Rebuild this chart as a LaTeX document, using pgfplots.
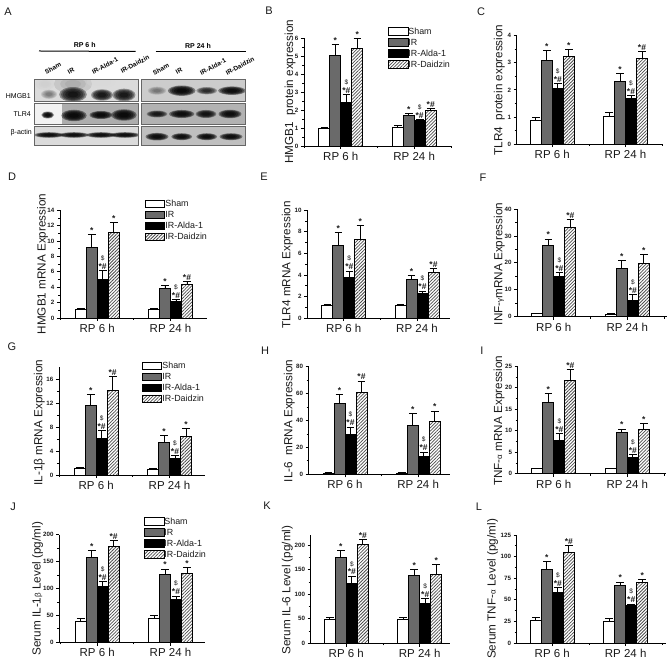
\documentclass[border=0pt]{standalone}
\usepackage{fontspec}
\setmainfont{Liberation Sans}
\usepackage{pgfplots}
\usepackage{pgfplotstable}
\pgfplotsset{compat=1.18}
\usetikzlibrary{patterns.meta}
\definecolor{irgray}{HTML}{6A6A6A}
\definecolor{txt}{HTML}{1A1A1A}

\pgfplotstableread{
x sham she ir ire al ale da dae
0 0.95 0.06 5.03 0.63 2.45 0.42 5.42 0.58
1 1.03 0.10 1.70 0.12 1.42 0.06 2.00 0.10
}\tabB
\pgfplotstableread{
x sham she ir ire al ale da dae
0 0.87 0.10 3.08 0.38 2.04 0.20 3.25 0.25
1 1.03 0.13 2.32 0.28 1.67 0.12 3.15 0.25
}\tabC
\pgfplotstableread{
x sham she ir ire al ale da dae
0 1.15 0.10 9.20 1.60 5.00 1.20 11.15 1.25
1 1.15 0.12 3.85 0.40 2.10 0.25 4.35 0.40
}\tabD
\pgfplotstableread{
x sham she ir ire al ale da dae
0 1.15 0.07 6.70 1.20 3.80 0.55 7.30 1.25
1 1.15 0.07 3.55 0.42 2.28 0.22 4.20 0.38
}\tabE
\pgfplotstableread{
x sham she ir ire al ale da dae
0 1.10 0.10 26.3 2.5 14.8 1.7 33.0 3.1
1 1.00 0.10 18.0 2.8 6.1 2.0 19.9 3.3
}\tabF
\pgfplotstableread{
x sham she ir ire al ale da dae
0 1.10 0.10 11.6 1.8 6.10 1.30 14.2 2.3
1 1.00 0.08 5.50 1.05 2.75 0.50 6.40 1.30
}\tabG
\pgfplotstableread{
x sham she ir ire al ale da dae
0 1.0 0.1 53.0 6.5 29.7 5.5 60.5 8.8
1 1.0 0.1 36.0 9.0 13.0 3.5 39.0 8.0
}\tabH
\pgfplotstableread{
x sham she ir ire al ale da dae
0 1.2 0.1 16.5 2.1 7.8 1.5 21.7 2.6
1 1.2 0.1 9.7 0.7 3.8 0.7 10.2 1.5
}\tabI
\pgfplotstableread{
x sham she ir ire al ale da dae
0 39 6 157 14 104 9 178 11
1 44 5 126 10 80 6 128 11
}\tabJ
\pgfplotstableread{
x sham she ir ire al ale da dae
0 48 4 176 13 123 14 202 10
1 48 5 138 12 82 10 141 20
}\tabK
\pgfplotstableread{
x sham she ir ire al ale da dae
0 26 4 85 9 58 6 105 8
1 25 3.5 67 3.5 43 2 70.5 3
}\tabL

% geometry of a panel, in pixels of the reference: L B T R c1 c2 labelx labely
\newcommand\setp[8]{%
 \pgfmathsetmacro\pW{#4-#1}\pgfmathsetmacro\pH{#2-#3}%
 \pgfmathsetmacro\pXmin{(#1-#5)/(#6-#5)}\pgfmathsetmacro\pXmax{(#4-#5)/(#6-#5)}%
 \pgfmathsetmacro\pY{663-#2}\edef\pL{#1}%
 \pgfmathsetmacro\pLx{(#7-#1)/(#4-#1)}\pgfmathsetmacro\pLy{(#2-#8)/(#2-#3)}%
 \edef\pB{#2}\edef\pT{#3}\edef\pR{#4}%
}
% legend corner, in pixels
\newcommand\setleg[2]{%
 \pgfmathsetmacro\gX{(#1-\pL)/(\pR-\pL)}\pgfmathsetmacro\gY{(\pB-#2)/(\pB-\pT)}%
}
\pgfplotsset{
 panel/.style={
  scale only axis, width=\pW bp, height=\pH bp,
  at={(\pL bp,\pY bp)}, anchor=south west,
  clip=false, ybar=0pt, bar width=11bp,
  xmin=\pXmin, xmax=\pXmax, ymin=0,
  axis x line=bottom, axis y line=left,
  axis line style={-,line width=0.9bp,black},
  every tick/.style={black,line width=0.8bp},
  tick align=outside,
  major tick length=3.2bp, minor tick length=2bp,
  xtick={0,1}, xticklabels={RP 6 h,RP 24 h},
  minor xtick={-0.5,0.5,1.5},
  minor y tick num=1,
  x tick label style={font=\fontsize{11.5bp}{12bp}\selectfont,text=txt,yshift=0.5bp},
  y tick label style={font=\bfseries\fontsize{6.2bp}{7bp}\selectfont,text=txt,xshift=1bp},
  /pgf/number format/assume math mode=true,
  every axis y label/.style={at={(axis description cs:\pLx,\pLy)},rotate=90,anchor=center,
    font=\fontsize{11.7bp}{12bp}\selectfont,text=txt},
 },
 withleg/.style={
  legend style={at={(\gX,\gY)},anchor=north west,draw=none,fill=none,inner sep=0pt,outer sep=0pt,
   font=\fontsize{8.9bp}{9bp}\selectfont,text=txt,row sep=2bp,
   nodes={inner sep=0pt,text height=7bp,text depth=2bp,anchor=west},
   /tikz/every even column/.append style={column sep=3bp}},
  legend cell align=left,
 },
 lg/.style={legend image code/.code={\path[draw=black,line width=0.9bp,#1] (0bp,-3.8bp) rectangle (19.5bp,3.8bp);}},
 eb/.style={error bars/.cd,y dir=plus,y explicit,
  error bar style={black,line width=0.9bp},
  error mark options={rotate=90,mark size=3.8bp,line width=0.9bp,black}},
}
\newcommand\bars[1]{%
 \addplot[lg={fill=white},draw=black,line width=0.9bp,fill=white,eb] table[x=x,y=sham,y error=she]{#1};
 \addplot[lg={fill=irgray},draw=black,line width=0.9bp,fill=irgray,eb] table[x=x,y=ir,y error=ire]{#1};
 \addplot[lg={fill=black},draw=black,line width=0.9bp,fill=black,eb] table[x=x,y=al,y error=ale]{#1};
 \addplot[lg={pattern={Lines[angle=45,distance=2.3bp,line width=0.75bp]},pattern color=black!70},draw=black,line width=0.9bp,pattern={Lines[angle=45,distance=2.3bp,line width=0.75bp]},pattern color=black!70,eb] table[x=x,y=da,y error=dae]{#1};
}
\tikzset{sg/.style={font=\bfseries\fontsize{8.5bp}{9bp}\selectfont,text=txt,inner sep=0pt,anchor=south,yshift=1bp},
 dl/.style={font=\fontsize{6.5bp}{7bp}\selectfont,text=txt,inner sep=0pt,anchor=south,yshift=9.5bp}}
% significance marks of a group: tops of IR, Alda, Daidzin, mark of Daidzin
\newcommand\sigA[4]{%
 \node[sg] at (axis cs:-0.075,#1) {*};
 \node[sg] at (axis cs:0.075,#2) {*\#};
 \node[dl] at (axis cs:0.075,#2) {\$};
 \node[sg] at (axis cs:0.225,#3) {#4};
}
\newcommand\sigB[4]{%
 \node[sg] at (axis cs:0.925,#1) {*};
 \node[sg] at (axis cs:1.075,#2) {*\#};
 \node[dl] at (axis cs:1.075,#2) {\$};
 \node[sg] at (axis cs:1.225,#3) {#4};
}
\newcommand\smallg[1]{{\fontsize{8bp}{8bp}\selectfont #1}}

% blot band
\newcommand\band[5]{\foreach\k in {1.15,1,0.85,0.65,0.45}{\fill[black,opacity=#5] (#1,#2) ellipse [x radius=\k*#3 bp,y radius=\k*#4 bp];}}
\newcommand\blob[5]{\foreach\k in {1.2,0.8,0.5}{\fill[#5,opacity=0.3] (#1,#2) ellipse [x radius=\k*#3 bp,y radius=\k*#4 bp];}}

\begin{document}
\begin{tikzpicture}
\useasboundingbox (0,0) rectangle (669bp,663bp);

\begin{scope}[x=1bp,y=-1bp,yshift=663bp]
% panel letters
\foreach \t/\a/\b in {A/8/12,B/269/11,C/481/12,D/12/177,E/264/177,F/483/178,G/12/347,H/265/351,I/482/351,J/13/507,K/267/506,L/479/507}
 \node[font=\fontsize{11bp}{12bp}\selectfont,text=txt,inner sep=0pt] at (\a,\b) {\t};
% blot headers
\node[font=\bfseries\fontsize{7bp}{8bp}\selectfont,inner sep=0pt] at (84.7,45.3) {RP 6 h};
\node[font=\bfseries\fontsize{7bp}{8bp}\selectfont,inner sep=0pt] at (198,46) {RP 24 h};
\draw[line width=1bp] (39,51) -- (135.7,51.5);
\draw[line width=1bp] (155.7,52) -- (246,52);
\foreach \t/\a/\b in {Sham/53/68,IR/71/70.7,IR-Alda-1/105/65.7,IR-Daidzin/135/64.3,Sham/161/69,IR/179/71,IR-Alda-1/213/66.7,IR-Daidzin/240/66}
 \node[rotate=28,font=\bfseries\fontsize{6.4bp}{7bp}\selectfont,inner sep=0pt] at (\a,\b) {\t};
\node[anchor=east,font=\fontsize{7bp}{8bp}\selectfont,inner sep=0pt] at (31,95.7) {HMGB1};
\node[anchor=east,font=\fontsize{7bp}{8bp}\selectfont,inner sep=0pt] at (31,114) {TLR4};
\node[anchor=east,font=\fontsize{7bp}{8bp}\selectfont,inner sep=0pt] at (32,132.7) {β-actin};
% left HMGB1
\begin{scope}
\clip (34.7,79.3) rectangle (138.3,101.7);
\fill[black!14] (34.7,79.3) rectangle (138.3,101.7);
\blob{73}{84}{16}{8}{black!40}
\blob{101}{82}{12}{5}{black!15}
\blob{45}{84}{8}{5}{black!20}
\band{49}{94.3}{7}{4}{0.1}
\band{73}{94.5}{12}{6.5}{0.36}
\band{102}{95}{9.5}{5}{0.34}
\band{124}{95}{10}{5.5}{0.34}
\end{scope}
\draw[black!60,line width=0.7bp] (34.7,79.3) rectangle (138.3,101.7);
% left TLR4
\begin{scope}
\clip (34.7,103.3) rectangle (138.3,124.3);
\fill[black!32] (34.7,103.3) rectangle (138.3,124.3);
\fill[black!5] (34.7,103.3) rectangle (62,124.3);
\band{47.7}{115}{5.5}{3}{0.42}
\band{74}{115.5}{11}{5}{0.42}
\band{101}{115}{10}{3.5}{0.42}
\band{124}{115}{11}{5}{0.42}
\end{scope}
\draw[black!60,line width=0.7bp] (34.7,103.3) rectangle (138.3,124.3);
% left actin
\begin{scope}
\clip (34.7,126) rectangle (138.3,145.3);
\fill[black!14] (34.7,126) rectangle (138.3,145.3);
\band{49}{135}{13}{2.4}{0.4}
\band{74}{135}{13}{2.4}{0.4}
\band{101}{135}{13}{2.4}{0.4}
\band{125}{135}{13}{2.4}{0.4}
\end{scope}
\draw[black!60,line width=0.7bp] (34.7,126) rectangle (138.3,145.3);
% right HMGB1
\begin{scope}
\clip (141.7,79.3) rectangle (245.7,101.7);
\fill[black!20] (141.7,79.3) rectangle (245.7,101.7);
\band{157}{90.7}{8}{3.5}{0.1}
\band{181.7}{90.7}{12}{4.5}{0.42}
\band{206.7}{90.7}{9}{3.2}{0.26}
\band{232}{90.7}{12}{3.7}{0.4}
\end{scope}
\draw[black!60,line width=0.7bp] (141.7,79.3) rectangle (245.7,101.7);
% right TLR4
\begin{scope}
\clip (141.7,103.3) rectangle (245.7,124.3);
\fill[black!30] (141.7,103.3) rectangle (245.7,124.3);
\band{157}{114}{9}{3}{0.32}
\band{181.7}{114}{11}{3.5}{0.4}
\band{206}{114}{9}{3.5}{0.36}
\band{230}{114}{10}{3.7}{0.4}
\end{scope}
\draw[black!60,line width=0.7bp] (141.7,103.3) rectangle (245.7,124.3);
% right actin
\begin{scope}
\clip (141.7,126) rectangle (245.7,145.3);
\fill[black!25] (141.7,126) rectangle (245.7,145.3);
\band{157}{136.7}{10}{3.3}{0.4}
\band{181.7}{136.7}{9}{3}{0.4}
\band{206.7}{136.7}{9}{3}{0.4}
\band{231}{136.7}{10}{3}{0.4}
\end{scope}
\draw[black!60,line width=0.7bp] (141.7,126) rectangle (245.7,145.3);
\end{scope}

% B
\setp{304}{146}{38.3}{452}{340.8}{414.2}{290}{91.7}\setleg{388}{27}
\begin{axis}[panel,withleg,ymax=6,ytick={0,1,...,6},ylabel={HMGB1\ \ protein expression},
 legend entries={Sham,IR,IR-Alda-1,IR-Daidzin}]
\bars{\tabB}
\sigA{5.66}{2.87}{6.0}{*}\sigB{1.82}{1.48}{2.1}{*\#}
\end{axis}
% C
\setp{516.7}{144}{35.7}{662.7}{552.3}{625.5}{499.3}{90}
\begin{axis}[panel,ymax=4,ytick={0,1,...,4},ylabel={TLR4\ \ protein expression}]
\bars{\tabC}
\sigA{3.46}{2.24}{3.5}{*}\sigB{2.6}{1.79}{3.4}{*\#}
\end{axis}
% D
\setp{60}{318}{210.3}{206.7}{97.2}{170.5}{42.7}{264}\setleg{145}{199.5}
\begin{axis}[panel,withleg,ymax=14,ytick={0,2,...,14},ylabel={HMGB1 mRNA Expression},
 legend entries={Sham,IR,IR-Alda-1,IR-Daidzin}]
\bars{\tabD}
\sigA{10.8}{6.2}{12.4}{*}\sigB{4.25}{2.35}{4.75}{*\#}
\end{axis}
% E
\setp{307.3}{318}{210.3}{450}{343.8}{417}{287.3}{265}
\begin{axis}[panel,ymax=10,ytick={0,2,...,10},ylabel={TLR4 mRNA Expression}]
\bars{\tabE}
\sigA{7.9}{4.35}{8.55}{*}\sigB{3.97}{2.5}{4.58}{*\#}
\end{axis}
% F
\setp{517.3}{316.7}{209}{666.7}{553.8}{627.3}{499.3}{264}
\begin{axis}[panel,ymax=40,ytick={0,10,...,40},ylabel={INF-\smallg{γ}mRNA Expression}]
\bars{\tabF}
\sigA{28.8}{16.5}{36.1}{*\#}\sigB{20.8}{8.1}{23.2}{*}
\end{axis}
% G
\setp{59}{475}{367.3}{205}{96.2}{169.5}{39.3}{422.5}\setleg{142}{361.5}
\begin{axis}[panel,withleg,ymax=18,ytick={0,4,...,16},ylabel={IL-1β mRNA Expression},
 legend entries={Sham,IR,IR-Alda-1,IR-Daidzin}]
\bars{\tabG}
\sigA{13.4}{7.4}{16.5}{*\#}\sigB{6.55}{3.25}{7.7}{*}
\end{axis}
% H
\setp{308.7}{474.3}{366.7}{450}{345}{418.2}{289.3}{421}
\begin{axis}[panel,ymax=80,ytick={0,20,...,80},ylabel={IL-6\ \ mRNA Expression}]
\bars{\tabH}
\sigA{59.5}{35.2}{69.3}{*\#}\sigB{45}{16.5}{47}{*}
\end{axis}
% I
\setp{517.7}{473.7}{366.3}{666}{553.8}{627.3}{499}{420.7}
\begin{axis}[panel,ymax=25,ytick={0,5,...,25},ylabel={TNF-\smallg{α} mRNA Expression}]
\bars{\tabI}
\sigA{18.6}{9.3}{24.3}{*\#}\sigB{10.4}{4.5}{11.7}{*}
\end{axis}
% J
\setp{59.3}{642.3}{534.7}{205}{97.2}{170.5}{37.7}{588.7}\setleg{144}{517}
\begin{axis}[panel,withleg,ymax=200,ytick={0,50,...,200},ylabel={Serum IL-1\smallg{β} Level (pg/ml)},
 legend entries={Sham,IR,IR-Alda-1,IR-Daidzin}]
\bars{\tabJ}
\sigA{171}{113}{189}{*\#}\sigB{136}{86}{139}{*}
\end{axis}
% K
\setp{310.7}{643.3}{535}{450}{346.3}{419.7}{287.3}{590}
\begin{axis}[panel,ymax=221,ytick={0,50,...,200},ylabel={Serum IL-6 Level (pg/ml)}]
\bars{\tabK}
\sigA{189}{137}{212}{*\#}\sigB{150}{92}{161}{*}
\end{axis}
% L
\setp{516.7}{643}{535}{666}{552.3}{625.7}{492.7}{589}
\begin{axis}[panel,ymax=125,ytick={0,25,...,125},ylabel={Serum TNF-\smallg{α} Level (pg/ml)}]
\bars{\tabL}
\sigA{94}{64}{113}{*\#}\sigB{70.5}{45}{73.5}{*}
\end{axis}
\end{tikzpicture}
\end{document}
